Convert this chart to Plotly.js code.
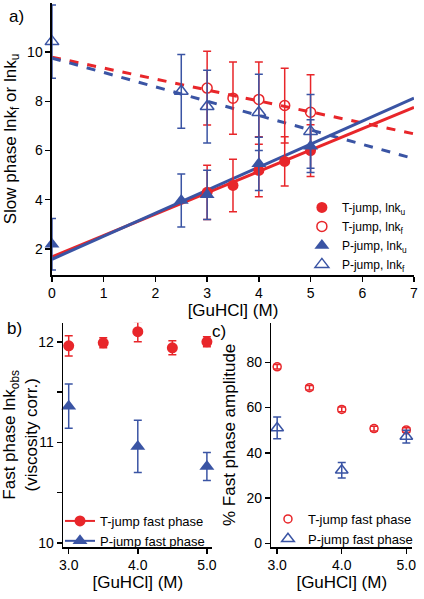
<!DOCTYPE html>
<html>
<head>
<meta charset="utf-8">
<script src="https://cdn.plot.ly/plotly-3.0.1.min.js"></script>
<style>html,body{margin:0;padding:0;background:#fff;}#plot{width:424px;height:599px;}</style>
</head>
<body>
<div id="plot"></div>
<script>
// ---- Panel a: slow phase ----
const aTx = [3, 3.5, 4, 4.5, 5];
const aTku = [4.30, 4.58, 5.19, 5.56, 6.00];
const aTkuErr = [1.10, 1.07, 1.07, 1.00, 1.05];
const aTkf = [8.54, 8.13, 8.08, 7.83, 7.56];
const aTkfErr = [1.50, 1.47, 1.52, 1.52, 1.52];
const aPx = [0, 2.5, 3, 4, 5];
const aPku = [2.19, 3.97, 4.20, 5.46, 6.18];
const aPkuErr = [1.05, 1.08, 1.00, 1.08, 1.07];
const aPkf = [10.43, 8.41, 7.79, 7.55, 6.78];
const aPkfErr = [1.49, 1.50, 1.48, 1.55, 1.50];
const fitX = [0, 7];
const fitTku = [1.68, 7.76];
const fitPku = [1.58, 8.13];
const fitTkf = [9.80, 6.68];
const fitPkf = [9.76, 5.67];
// ---- Panel b: fast phase ln k_obs ----
const bTx = [3, 3.5, 4, 4.5, 5];
const bT = [11.96, 11.99, 12.10, 11.94, 12.00];
const bTErr = [0.10, 0.05, 0.10, 0.07, 0.05];
const bPx = [3, 4, 5];
const bP = [11.36, 10.96, 10.76];
const bPErr = [0.22, 0.26, 0.14];
// ---- Panel c: % fast phase amplitude ----
const cTx = [3, 3.5, 4, 4.5, 5];
const cT = [78.0, 68.8, 59.2, 50.7, 50.1];
const cTErr = [1.0, 1.0, 1.0, 1.0, 1.0];
const cPx = [3, 4, 5];
const cP = [51.0, 32.3, 47.2];
const cPErr = [4.8, 3.4, 2.8];

const RED = 'rgb(232,38,42)';
const BLUE = 'rgb(58,84,164)';
const FONT = 'Liberation Sans, Arial, Helvetica, sans-serif';

function eb(arr, color) {
  return {type: 'data', array: arr, visible: true, color: color, thickness: 1.5, width: 4};
}

const traces = [
  // fits in a
  {x: fitX, y: fitTkf, mode: 'lines', line: {color: RED, width: 3, dash: 'dash'}, showlegend: false, xaxis: 'x', yaxis: 'y'},
  {x: fitX, y: fitPkf, mode: 'lines', line: {color: BLUE, width: 3, dash: 'dash'}, showlegend: false, xaxis: 'x', yaxis: 'y'},
  {x: fitX, y: fitTku, mode: 'lines', line: {color: RED, width: 3}, showlegend: false, xaxis: 'x', yaxis: 'y'},
  {x: fitX, y: fitPku, mode: 'lines', line: {color: BLUE, width: 3}, showlegend: false, xaxis: 'x', yaxis: 'y'},
  // data a
  {x: aTx, y: aTku, name: 'T-jump, lnk<sub>u</sub>', mode: 'markers', error_y: eb(aTkuErr, RED),
   marker: {symbol: 'circle', size: 11, color: RED}, xaxis: 'x', yaxis: 'y', legend: 'legend', cliponaxis: false},
  {x: aTx, y: aTkf, name: 'T-jump, lnk<sub>f</sub>', mode: 'markers', error_y: eb(aTkfErr, RED),
   marker: {symbol: 'circle-open', size: 10, color: RED, line: {width: 1.5}}, xaxis: 'x', yaxis: 'y', legend: 'legend', cliponaxis: false},
  {x: aPx, y: aPku, name: 'P-jump, lnk<sub>u</sub>', mode: 'markers', error_y: eb(aPkuErr, BLUE),
   marker: {symbol: 'triangle-up', size: 13, color: BLUE}, xaxis: 'x', yaxis: 'y', legend: 'legend', cliponaxis: false},
  {x: aPx, y: aPkf, name: 'P-jump, lnk<sub>f</sub>', mode: 'markers', error_y: eb(aPkfErr, BLUE),
   marker: {symbol: 'triangle-up-open', size: 12, color: BLUE, line: {width: 1.5}}, xaxis: 'x', yaxis: 'y', legend: 'legend', cliponaxis: false},
  // data b
  {x: bTx, y: bT, name: 'T-jump fast phase', mode: 'markers', error_y: eb(bTErr, RED),
   marker: {symbol: 'circle', size: 11, color: RED}, xaxis: 'x2', yaxis: 'y2', showlegend: false, cliponaxis: false},
  {x: bPx, y: bP, name: 'P-jump fast phase', mode: 'markers', error_y: eb(bPErr, BLUE),
   marker: {symbol: 'triangle-up', size: 13, color: BLUE}, xaxis: 'x2', yaxis: 'y2', showlegend: false, cliponaxis: false},
  {x: [null], y: [null], name: 'T-jump fast phase', mode: 'lines+markers', line: {color: RED, width: 2},
   marker: {symbol: 'circle', size: 11, color: RED}, xaxis: 'x2', yaxis: 'y2', legend: 'legend2'},
  {x: [null], y: [null], name: 'P-jump fast phase', mode: 'lines+markers', line: {color: BLUE, width: 2},
   marker: {symbol: 'triangle-up', size: 13, color: BLUE}, xaxis: 'x2', yaxis: 'y2', legend: 'legend2'},
  // data c
  {x: cTx, y: cT, name: 'T-jump fast phase', mode: 'markers', error_y: eb(cTErr, RED),
   marker: {symbol: 'circle-open', size: 8, color: RED, line: {width: 1.5}}, xaxis: 'x3', yaxis: 'y3', legend: 'legend3', cliponaxis: false},
  {x: cPx, y: cP, name: 'P-jump fast phase', mode: 'markers', error_y: eb(cPErr, BLUE),
   marker: {symbol: 'triangle-up-open', size: 11, color: BLUE, line: {width: 1.5}}, xaxis: 'x3', yaxis: 'y3', legend: 'legend3', cliponaxis: false}
];

const axBase = {
  showgrid: false, zeroline: false, showline: true, linecolor: '#000', linewidth: 1.5,
  ticks: 'outside', ticklen: 5, tickwidth: 1.5, tickcolor: '#000',
  tickfont: {family: FONT, size: 14, color: '#000'}, fixedrange: true
};
function ax(extra) { return Object.assign({}, axBase, extra); }
const titleFont = {family: FONT, size: 17, color: '#000'};

const layout = {
  width: 424, height: 599,
  margin: {l: 0, r: 0, t: 0, b: 0},
  paper_bgcolor: '#fff', plot_bgcolor: '#fff',
  font: {family: FONT, color: '#000'},
  xaxis: ax({domain: [0.1226, 0.9764], range: [0, 7], tickvals: [0,1,2,3,4,5,6,7], anchor: 'y',
    title: {text: '[GuHCl] (M)', font: titleFont, standoff: 0}}),
  yaxis: ax({domain: [0.5409, 0.995], range: [0.94, 12.0], tickvals: [2,4,6,8,10], anchor: 'x',
    title: {text: 'Slow phase lnk<sub>f</sub> or lnk<sub>u</sub>', font: titleFont, standoff: 6}}),
  xaxis2: ax({domain: [0.149, 0.501], range: [2.92, 5.08], tickvals: [3,4,5], ticktext: ['3.0','4.0','5.0'], anchor: 'y2',
    title: {text: '[GuHCl] (M)', font: titleFont, standoff: 0}}),
  yaxis2: ax({domain: [0.0868, 0.4613], range: [9.96, 12.19], tickvals: [10,10.5,11,11.5,12], ticktext: ['10','','11','','12'], anchor: 'x2',
    title: {text: 'Fast phase lnk<sub>obs</sub><br>(viscosity corr.)', font: titleFont, standoff: 6}}),
  xaxis3: ax({domain: [0.640, 0.972], range: [2.91, 5.09], tickvals: [3,4,5], ticktext: ['3.0','4.0','5.0'], anchor: 'y3',
    title: {text: '[GuHCl] (M)', font: titleFont, standoff: 0}}),
  yaxis3: ax({domain: [0.0868, 0.4613], range: [-1.6, 97.5], tickvals: [0,20,40,60,80], anchor: 'x3',
    title: {text: '% Fast phase amplitude', font: titleFont, standoff: 6}}),
  legend: {x: 0.712, y: 0.678, xanchor: 'left', yanchor: 'top', bgcolor: 'rgba(0,0,0,0)',
    font: {family: FONT, size: 12, color: '#000'}, tracegroupgap: 0},
  legend2: {x: 0.1415, y: 0.1553, xanchor: 'left', yanchor: 'top', bgcolor: 'rgba(0,0,0,0)',
    font: {family: FONT, size: 13, color: '#000'}, tracegroupgap: 0},
  legend3: {x: 0.632, y: 0.1586, xanchor: 'left', yanchor: 'top', bgcolor: 'rgba(0,0,0,0)',
    font: {family: FONT, size: 13, color: '#000'}, tracegroupgap: 0},
  annotations: [
    {text: 'a)', xref: 'paper', yref: 'paper', x: 7/424, y: 1 - 16/599, xanchor: 'left', yanchor: 'middle', showarrow: false, font: {family: FONT, size: 17, color: '#000'}},
    {text: 'b)', xref: 'paper', yref: 'paper', x: 5/424, y: 1 - 328/599, xanchor: 'left', yanchor: 'middle', showarrow: false, font: {family: FONT, size: 17, color: '#000'}},
    {text: 'c)', xref: 'paper', yref: 'paper', x: 210/424, y: 1 - 331/599, xanchor: 'left', yanchor: 'middle', showarrow: false, font: {family: FONT, size: 17, color: '#000'}}
  ],
  showlegend: true
};

Plotly.newPlot('plot', traces, layout, {displayModeBar: false, staticPlot: true});
</script>
</body>
</html>
